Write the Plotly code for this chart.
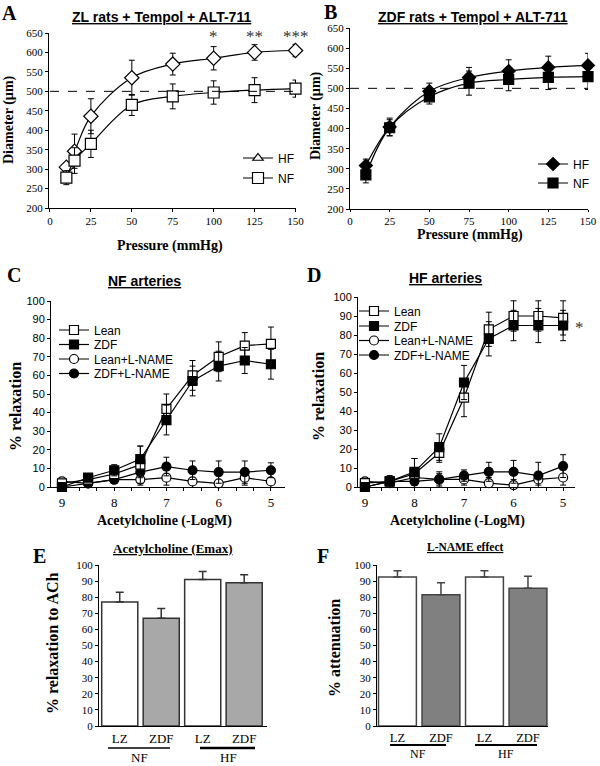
import plotly.graph_objects as go

W, H = 600, 766
SERIF = "Liberation Serif, Times New Roman, serif"
SANS = "Liberation Sans, Arial, sans-serif"

# ---------------- Data ----------------
# Panel A: ZL rats + Tempol + ALT-711
a_pressure = [10, 15, 25, 50, 75, 100, 125, 150]
a_hf = [305, 346, 436, 535, 570, 585, 600, 605]
a_hf_err = [10, 44, 45, 45, 28, 30, 20, 16]
a_nf = [278, 322, 365, 465, 487, 497, 503, 507]
a_nf_err = [18, 33, 35, 27, 32, 30, 32, 22]
a_stars = ["*", "**", "***"]
a_star_x = [100, 125, 150]

# Panel B: ZDF rats + Tempol + ALT-711
b_pressure = [10, 25, 50, 75, 100, 125, 150]
b_hf = [308, 404, 493, 527, 543, 552, 557]
b_hf_err = [16, 22, 20, 25, 28, 28, 30]
b_nf = [285, 402, 479, 513, 522, 527, 529]
b_nf_err = [20, 20, 18, 30, 28, 30, 32]

ref_line = 500

# Panels C, D: Acetylcholine (-LogM)
ach = [9, 8.5, 8, 7.5, 7, 6.5, 6, 5.5, 5]
c_lean = [2, 4, 7, 12, 42, 60, 70, 76, 77]
c_lean_err = [2, 2, 3, 10, 8, 8, 8, 7, 9]
c_zdf = [0, 5, 9, 15, 36, 57, 65, 68, 66]
c_zdf_err = [1, 2, 3, 7, 8, 8, 8, 7, 8]
c_lean_ln = [3, 2, 4, 4, 5, 3, 2, 5, 3]
c_lean_ln_err = [1, 2, 2, 3, 4, 4, 4, 4, 4]
c_zdf_ln = [0, 2, 4, 8, 11, 9, 8, 8, 9]
c_zdf_ln_err = [1, 2, 2, 3, 5, 5, 6, 6, 4]

d_lean = [2, 3, 7, 18, 47, 83, 90, 90, 89]
d_lean_err = [2, 3, 8, 5, 10, 9, 8, 8, 9]
d_zdf = [0, 3, 8, 21, 55, 78, 85, 85, 85]
d_zdf_err = [1, 2, 7, 7, 9, 9, 8, 9, 8]
d_lean_ln = [3, 2, 5, 4, 4, 2, 1, 4, 5]
d_lean_ln_err = [1, 3, 3, 4, 3, 3, 3, 3, 4]
d_zdf_ln = [0, 3, 3, 4, 6, 8, 8, 6, 11]
d_zdf_ln_err = [1, 2, 2, 3, 3, 5, 6, 7, 6]

# Panels E, F: bar charts
bar_labels = ["LZ", "ZDF", "LZ", "ZDF"]
bar_pos = [0, 1, 2, 3]
e_vals = [77, 67, 91, 89]
e_err = [6, 6, 5, 5]
f_vals = [92.5, 81.5, 92.5, 85.5]
f_err = [4, 7.5, 4, 7.5]
groups = ["NF", "HF"]

# ---------------- Helpers ----------------
def px(x):
    return x / W

def py(y):
    return 1 - y / H

fig = go.Figure()

def err(arr):
    return dict(type="data", array=arr, color="black", thickness=1, width=3)

def line_trace(x, y, e, name, symbol, fill, xa, ya, size=9, shape="linear",
               legend=None, showlegend=True):
    return go.Scatter(
        x=x, y=y, name=name, mode="lines+markers",
        line=dict(color="black", width=1.2, shape=shape),
        marker=dict(symbol=symbol, size=size, color=fill,
                    line=dict(color="black", width=1.2)),
        error_y=err(e), xaxis=xa, yaxis=ya, cliponaxis=False,
        legend=legend, showlegend=showlegend,
    )

# Panel A
fig.add_trace(line_trace(a_pressure, a_hf, a_hf_err, "HF", "diamond", "white",
                         "x", "y", size=11, shape="spline", showlegend=False))
fig.add_trace(line_trace(a_pressure, a_nf, a_nf_err, "NF", "square", "white",
                         "x", "y", size=11, shape="spline", legend="legend2"))
fig.add_trace(go.Scatter(x=[None], y=[None], name="HF", mode="lines+markers",
                         line=dict(color="black", width=1.2),
                         marker=dict(symbol="triangle-up", size=9, color="white",
                                     line=dict(color="black", width=1.2)),
                         xaxis="x", yaxis="y", legend="legend"))

# Panel B
fig.add_trace(line_trace(b_pressure, b_nf, b_nf_err, "NF", "square", "black",
                         "x2", "y2", size=10, shape="spline", legend="legend4"))
fig.add_trace(line_trace(b_pressure, b_hf, b_hf_err, "HF", "diamond", "black",
                         "x2", "y2", size=10, shape="spline", legend="legend3"))

# Panel C
fig.add_trace(line_trace(ach, c_lean_ln, c_lean_ln_err, "Lean+L-NAME", "circle", "white", "x3", "y3", legend="legend7"))
fig.add_trace(line_trace(ach, c_zdf_ln, c_zdf_ln_err, "ZDF+L-NAME", "circle", "black", "x3", "y3", legend="legend8"))
fig.add_trace(line_trace(ach, c_lean, c_lean_err, "Lean", "square", "white", "x3", "y3", legend="legend5"))
fig.add_trace(line_trace(ach, c_zdf, c_zdf_err, "ZDF", "square", "black", "x3", "y3", legend="legend6"))

# Panel D
fig.add_trace(line_trace(ach, d_lean_ln, d_lean_ln_err, "Lean+L-NAME", "circle", "white", "x4", "y4", legend="legend11"))
fig.add_trace(line_trace(ach, d_zdf_ln, d_zdf_ln_err, "ZDF+L-NAME", "circle", "black", "x4", "y4", legend="legend12"))
fig.add_trace(line_trace(ach, d_lean, d_lean_err, "Lean", "square", "white", "x4", "y4", legend="legend9"))
fig.add_trace(line_trace(ach, d_zdf, d_zdf_err, "ZDF", "square", "black", "x4", "y4", legend="legend10"))

# Panel E
fig.add_trace(go.Bar(
    x=bar_pos, y=e_vals, width=0.87, showlegend=False,
    marker=dict(color=["white", "#a8a8a8", "white", "#a8a8a8"],
                line=dict(color="#333333", width=1.5)),
    error_y=dict(type="data", array=e_err, arrayminus=[0] * 4, color="#333333",
                 thickness=1.5, width=4),
    xaxis="x5", yaxis="y5"))

# Panel F
fig.add_trace(go.Bar(
    x=bar_pos, y=f_vals, width=0.87, showlegend=False,
    marker=dict(color=["white", "#808080", "white", "#808080"],
                line=dict(color="#444444", width=1.5)),
    error_y=dict(type="data", array=f_err, arrayminus=[0] * 4, color="#444444",
                 thickness=1.5, width=4),
    xaxis="x6", yaxis="y6"))

# ---------------- Axes ----------------
def ax(domain, rng, tickfont, **kw):
    d = dict(domain=domain, range=rng, showgrid=False, zeroline=False,
             showline=True, linecolor="black", linewidth=1,
             ticks="outside", ticklen=3, tickcolor="black",
             tickfont=tickfont)
    d.update(kw)
    return d

serif_tf = dict(family=SERIF, size=11, color="black")
sans_tf = dict(family=SANS, size=11, color="black")
serif12 = dict(family=SERIF, size=13, color="black")

third = [9 - i / 3 for i in range(13)]
third_txt = [str(int(round(v))) if abs(v - round(v)) < 1e-6 else "" for v in third]

layout = dict(
    width=W, height=H, margin=dict(l=0, r=0, t=0, b=0, autoexpand=False),
    paper_bgcolor="white", plot_bgcolor="white", showlegend=True,
    xaxis=ax([px(49), px(296)], [-0.6, 150.3], serif_tf, anchor="y",
             tickvals=[0, 25, 50, 75, 100, 125, 150]),
    yaxis=ax([py(208), py(33)], [200, 650], serif_tf, anchor="x", dtick=50),
    xaxis2=ax([px(350), px(588)], [0, 150], serif_tf, anchor="y2",
              tickvals=[0, 25, 50, 75, 100, 125, 150], ticklen=2),
    yaxis2=ax([py(209), py(28)], [200, 650], serif_tf, anchor="x2", dtick=50),
    xaxis3=ax([px(51), px(285)], [9.21, 4.73], serif12, anchor="y3",
              tickvals=third, ticktext=third_txt),
    yaxis3=ax([py(487), py(301)], [0, 100], sans_tf, anchor="x3", dtick=10),
    xaxis4=ax([px(358), px(575)], [9.14, 4.76], serif12, anchor="y4",
              tickvals=third, ticktext=third_txt),
    yaxis4=ax([py(487), py(297)], [0, 100], sans_tf, anchor="x4", dtick=10),
    xaxis5=ax([px(99), px(267)], [-0.5, 3.55], dict(family=SERIF, size=13, color="black"),
              anchor="y5", tickvals=bar_pos, ticktext=bar_labels, ticks=""),
    yaxis5=ax([py(726), py(565)], [0, 100], serif_tf, anchor="x5", dtick=10),
    xaxis6=ax([px(377), px(548)], [-0.47, 3.46], dict(family=SERIF, size=12.5, color="black"),
              anchor="y6", tickvals=bar_pos, ticktext=bar_labels, ticks=""),
    yaxis6=ax([py(726), py(565)], [0, 100], serif_tf, anchor="x6", dtick=10),
)

# legends: one per entry, placed individually
def leg(mx, my, size=11):
    return dict(x=px(mx - 22), y=py(my), xanchor="left", yanchor="middle",
                bgcolor="rgba(0,0,0,0)", borderwidth=0,
                font=dict(family=SANS, size=size, color="black"))

layout["legend"] = leg(260, 158, 12)
layout["legend2"] = leg(260, 178, 12)
layout["legend3"] = leg(555, 164, 12)
layout["legend4"] = leg(555, 183, 12)
for i, yy in enumerate([330, 344.5, 359, 373.5]):
    layout[f"legend{5 + i}"] = leg(76, yy, 12)
for i, yy in enumerate([311, 326, 340.5, 355]):
    layout[f"legend{9 + i}"] = leg(376, yy, 12)

fig.update_layout(**layout)

# ---------------- Shapes ----------------
shapes = [
    dict(type="line", xref="x", yref="y", x0=0, x1=150, y0=ref_line, y1=ref_line,
         line=dict(color="black", width=1, dash="dash")),
    dict(type="line", xref="x2", yref="y2", x0=0, x1=150, y0=ref_line, y1=ref_line,
         line=dict(color="black", width=1, dash="dash")),
    dict(type="line", xref="paper", yref="paper", x0=px(108), x1=px(170), y0=py(748), y1=py(748),
         line=dict(color="black", width=1.5)),
    dict(type="line", xref="paper", yref="paper", x0=px(200), x1=px(255), y0=py(748), y1=py(748),
         line=dict(color="black", width=2.5)),
    dict(type="line", xref="paper", yref="paper", x0=px(390), x1=px(446), y0=py(745), y1=py(745),
         line=dict(color="black", width=2)),
    dict(type="line", xref="paper", yref="paper", x0=px(475), x1=px(537), y0=py(745), y1=py(745),
         line=dict(color="black", width=2)),
]
fig.update_layout(shapes=shapes)

# ---------------- Annotations ----------------
ann = []

def txt(x, y, s, size, family=SERIF, angle=0, color="black", xanchor="center"):
    ann.append(dict(x=px(x), y=py(y), xref="paper", yref="paper", text=s,
                    showarrow=False, xanchor=xanchor, yanchor="middle",
                    textangle=angle, font=dict(family=family, size=size, color=color)))

# panel letters
txt(9, 13, "<b>A</b>", 20)
txt(330, 12, "<b>B</b>", 20)
txt(14, 275, "<b>C</b>", 20)
txt(314, 275, "<b>D</b>", 20)
txt(39, 556, "<b>E</b>", 20)
txt(323, 556, "<b>F</b>", 20)

# titles
txt(161, 17, "<b><u>ZL rats + Tempol + ALT-711</u></b>", 14, SANS)
txt(473, 17, "<b><u>ZDF rats + Tempol + ALT-711</u></b>", 14, SANS)
txt(144, 281, "<b><u>NF arteries</u></b>", 14, SANS)
txt(445, 278, "<b><u>HF arteries</u></b>", 14, SANS)
txt(173, 548, "<b><u>Acetylcholine (Emax)</u></b>", 13)
txt(465, 547, "<b><u>L-NAME effect</u></b>", 11.5)

# axis titles
txt(9, 120, "<b>Diameter (µm)</b>", 14, angle=-90)
txt(316, 115, "<b>Diameter (µm)</b>", 14, angle=-90)
txt(170, 246, "<b>Pressure (mmHg)</b>", 14)
txt(470, 235, "<b>Pressure (mmHg)</b>", 14)
txt(15, 407, "<b>% relaxation</b>", 16, angle=-90)
txt(318, 397, "<b>% relaxation</b>", 16, angle=-90)
txt(164, 521, "<b>Acetylcholine (-LogM)</b>", 14)
txt(457, 521, "<b>Acetylcholine (-LogM)</b>", 14)
txt(52, 643, "<b>% relaxation to ACh</b>", 16, angle=-90)
txt(334, 648, "<b>% attenuation</b>", 16, angle=-90)

# group labels
txt(139, 757, "NF", 13)
txt(228, 757, "HF", 13)
txt(418, 754, "NF", 12)
txt(506, 754, "HF", 12)

# significance marks
for sx, s in zip(a_star_x, a_stars):
    ann.append(dict(x=sx, y=640, xref="x", yref="y", text=s, showarrow=False,
                    xanchor="center", yanchor="middle",
                    font=dict(family=SERIF, size=17, color="#333333")))
ann.append(dict(x=5, y=84, xref="x4", yref="y4", text="*", showarrow=False,
                xanchor="left", yanchor="middle", xshift=10,
                font=dict(family=SERIF, size=17, color="#333333")))
ann.append(dict(x=3, y=101, xref="x5", yref="y5", text="*", showarrow=False,
                xanchor="center", yanchor="middle",
                font=dict(family=SERIF, size=17, color="#333333")))

fig.update_layout(annotations=ann)

fig.write_html("out.html",
               config={"displayModeBar": False},
               post_script="document.body.style.margin='0';document.body.style.overflow='hidden';")
